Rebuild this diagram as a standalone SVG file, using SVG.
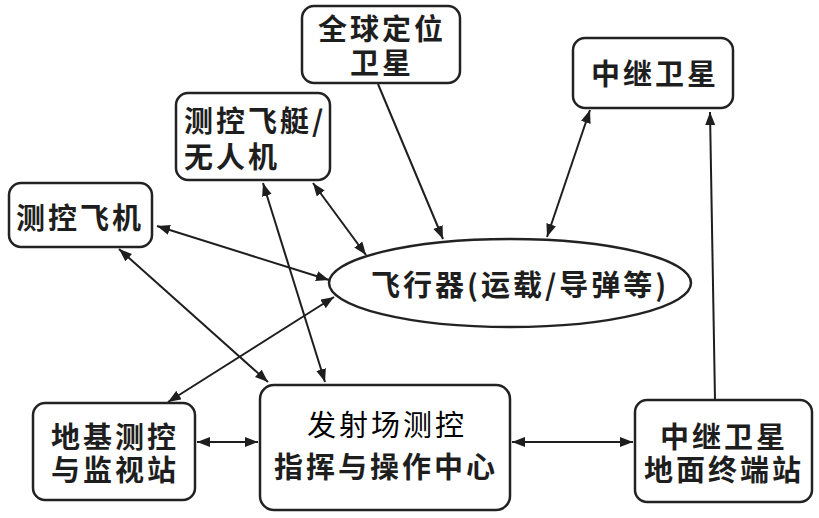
<svg xmlns="http://www.w3.org/2000/svg" width="819" height="518" viewBox="0 0 819 518">
<style>
.box{fill:#fff;stroke:#222;stroke-width:2.5}
.t{font-family:"Noto Sans CJK SC","Liberation Sans",sans-serif;font-size:29px;fill:#1e1e1e;font-weight:bold;letter-spacing:3px}
.k{font-family:"Noto Sans CJK SC","Liberation Sans",sans-serif;font-size:29px;fill:#000;letter-spacing:3px}
.c{stroke:#1e1e1e;stroke-width:2;fill:none;marker-end:url(#ah)}
.d{marker-start:url(#ah)}
</style>
<defs>
<marker id="ah" markerUnits="userSpaceOnUse" markerWidth="14" markerHeight="11" refX="13" refY="5" orient="auto-start-reverse">
<path d="M0,0 L13,5 L0,10 z" fill="#1e1e1e"/>
</marker>
</defs>
<rect width="819" height="518" fill="#fff"/>
<g id="connectors">
<line class="c" x1="378" y1="84" x2="443" y2="239"/>
<line class="c d" x1="547" y1="237" x2="590" y2="110"/>
<line class="c" x1="715" y1="400" x2="710" y2="112"/>
<line class="c d" x1="313" y1="183" x2="366" y2="255"/>
<line class="c d" x1="263" y1="183" x2="325" y2="382"/>
<line class="c d" x1="157" y1="226" x2="329" y2="280"/>
<line class="c d" x1="119" y1="249" x2="268" y2="382"/>
<line class="c d" x1="334" y1="297" x2="168" y2="402"/>
<line class="c d" x1="197" y1="442" x2="258" y2="442"/>
<line class="c d" x1="512" y1="442" x2="633" y2="442"/>
</g>
<g id="gps">
<rect class="box" x="302" y="6" width="158" height="77" rx="12"/>
<text class="t" x="382" y="40" text-anchor="middle">全球定位</text>
<text class="t" x="382" y="74" text-anchor="middle">卫星</text>
</g>
<g id="relay-sat">
<rect class="box" x="573" y="38" width="160" height="70" rx="12"/>
<text class="t" x="655" y="85" text-anchor="middle">中继卫星</text>
</g>
<g id="airship">
<rect class="box" x="176" y="93" width="154" height="87" rx="12"/>
<text class="t" x="184" y="132">测控飞艇/</text>
<text class="t" x="184" y="168">无人机</text>
</g>
<g id="plane">
<rect class="box" x="9" y="183" width="143" height="64" rx="12"/>
<text class="t" x="16" y="229">测控飞机</text>
</g>
<g id="vehicle">
<ellipse class="box" cx="510" cy="283" rx="181" ry="44"/>
<text class="t" x="371" y="296" letter-spacing="0">飞行器(运载/导弹等)</text>
</g>
<g id="ground">
<rect class="box" x="33" y="403" width="162" height="97" rx="12"/>
<text class="t" x="115" y="448" text-anchor="middle">地基测控</text>
<text class="t" x="115" y="481" text-anchor="middle">与监视站</text>
</g>
<g id="center">
<rect class="box" x="260" y="385" width="250" height="125" rx="14"/>
<text class="k" x="387" y="436" text-anchor="middle">发射场测控</text>
<text class="t" x="386" y="478" text-anchor="middle">指挥与操作中心</text>
</g>
<g id="relay-ground">
<rect class="box" x="635" y="400" width="177" height="102" rx="12"/>
<text class="t" x="724" y="448" text-anchor="middle">中继卫星</text>
<text class="t" x="724" y="481" text-anchor="middle">地面终端站</text>
</g>
</svg>
